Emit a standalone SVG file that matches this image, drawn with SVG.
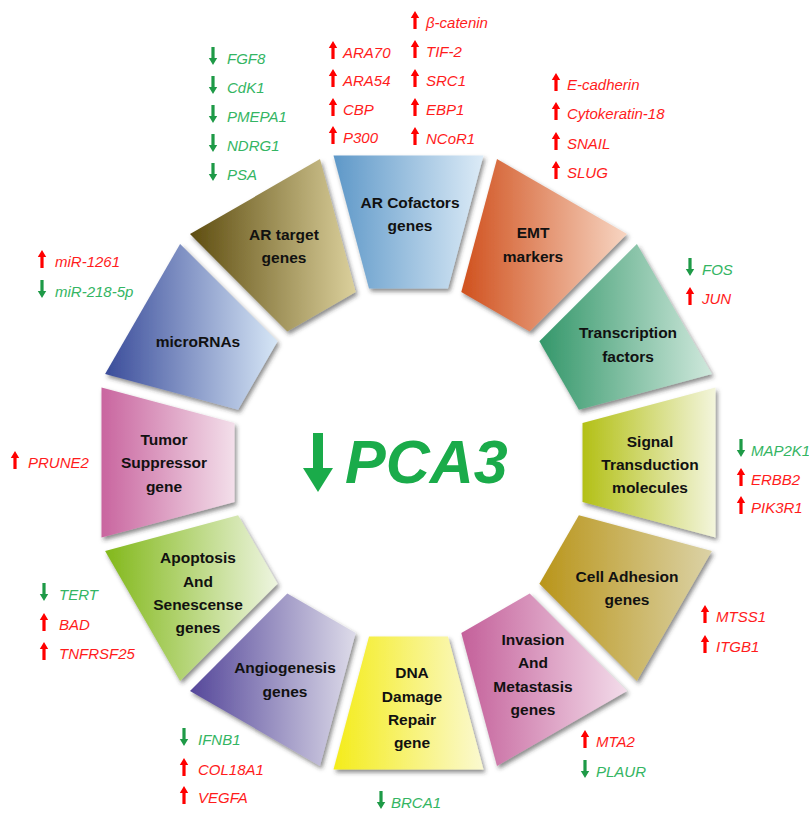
<svg xmlns="http://www.w3.org/2000/svg" xmlns:xlink="http://www.w3.org/1999/xlink" width="809" height="813" viewBox="0 0 809 813">
<defs>
<style>
.seg{filter:url(#sh);}
.lbl{font-family:"Liberation Sans",Arial,sans-serif;font-weight:bold;font-size:15.5px;fill:#111;text-anchor:middle;}
.gene{font-family:"Liberation Sans",Arial,sans-serif;font-style:italic;font-size:15px;}
.r{fill:#ff1c1c;}
.g{fill:#34b563;}
.ar{fill:#ff0000;}
.ag{fill:#1e9a47;}
</style>
<filter id="sh" x="-20%" y="-20%" width="150%" height="150%">
<feDropShadow dx="2" dy="3" stdDeviation="2" flood-color="#333" flood-opacity="0.55"/>
</filter>
<path id="up" d="M-1.6,1 L1.6,1 L1.6,-10 L4.2,-10 L0,-17 L-4.2,-10 L-1.6,-10 Z"/>
<path id="dn" d="M-1.6,-17 L1.6,-17 L1.6,-6 L4.2,-6 L0,1 L-4.2,-6 L-1.6,-6 Z"/>
<linearGradient id="g0"><stop offset="0" stop-color="#5e98c8"/><stop offset="1" stop-color="#dcebf7"/></linearGradient>
<linearGradient id="g1"><stop offset="0" stop-color="#d0511e"/><stop offset="1" stop-color="#f7d5c2"/></linearGradient>
<linearGradient id="g2"><stop offset="0" stop-color="#34976a"/><stop offset="1" stop-color="#cfe8dc"/></linearGradient>
<linearGradient id="g3"><stop offset="0" stop-color="#b3c016"/><stop offset="1" stop-color="#f3f5dc"/></linearGradient>
<linearGradient id="g4"><stop offset="0" stop-color="#b9951a"/><stop offset="1" stop-color="#dbd2a6"/></linearGradient>
<linearGradient id="g5"><stop offset="0" stop-color="#c4609a"/><stop offset="1" stop-color="#f3dcea"/></linearGradient>
<linearGradient id="g6"><stop offset="0" stop-color="#f4ec1a"/><stop offset="1" stop-color="#fbf9d0"/></linearGradient>
<linearGradient id="g7"><stop offset="0" stop-color="#55479a"/><stop offset="1" stop-color="#dddbe9"/></linearGradient>
<linearGradient id="g8"><stop offset="0" stop-color="#82b81a"/><stop offset="1" stop-color="#eef5e0"/></linearGradient>
<linearGradient id="g9"><stop offset="0" stop-color="#c9659f"/><stop offset="1" stop-color="#f3dfea"/></linearGradient>
<linearGradient id="g10"><stop offset="0" stop-color="#3a4c9a"/><stop offset="1" stop-color="#d6e6f6"/></linearGradient>
<linearGradient id="g11"><stop offset="0" stop-color="#5e4d10"/><stop offset="1" stop-color="#dbd09c"/></linearGradient>
</defs>
<rect width="809" height="813" fill="#fff"/>

<g id="ar-cofactors">
<polygon class="seg" fill="url(#g0)" points="369,288.5 448,288.5 483.5,155.5 333.5,155.5"/>
<text class="lbl" x="410" y="208">AR Cofactors</text>
<text class="lbl" x="410" y="231">genes</text>
<g class="gene">
<use href="#up" class="ar" x="333" y="58"/><text class="r" x="343" y="58">ARA70</text>
<use href="#up" class="ar" x="333" y="86"/><text class="r" x="343" y="86">ARA54</text>
<use href="#up" class="ar" x="333" y="115"/><text class="r" x="343" y="115">CBP</text>
<use href="#up" class="ar" x="333" y="143"/><text class="r" x="343" y="143">P300</text>
<use href="#up" class="ar" x="415" y="28"/><text class="r" x="426" y="28">β-catenin</text>
<use href="#up" class="ar" x="415" y="57"/><text class="r" x="426" y="57">TIF-2</text>
<use href="#up" class="ar" x="415" y="86"/><text class="r" x="426" y="86">SRC1</text>
<use href="#up" class="ar" x="415" y="115"/><text class="r" x="426" y="115">EBP1</text>
<use href="#up" class="ar" x="415" y="144"/><text class="r" x="426" y="144">NCoR1</text>
</g>
</g>

<g id="emt-markers">
<polygon class="seg" fill="url(#g1)" points="461.3,292.1 529.7,331.6 627,234.1 497,159.1"/>
<text class="lbl" x="533" y="238">EMT</text>
<text class="lbl" x="533" y="262">markers</text>
<g class="gene">
<use href="#up" class="ar" x="556" y="90"/><text class="r" x="567" y="90">E-cadherin</text>
<use href="#up" class="ar" x="556" y="119"/><text class="r" x="567" y="119">Cytokeratin-18</text>
<use href="#up" class="ar" x="556" y="149"/><text class="r" x="567" y="149">SNAIL</text>
<use href="#up" class="ar" x="556" y="178"/><text class="r" x="567" y="178">SLUG</text>
</g>
</g>

<g id="transcription-factors">
<polygon class="seg" fill="url(#g2)" points="539.4,341.3 578.9,409.7 711.9,374 636.9,244"/>
<text class="lbl" x="628" y="338">Transcription</text>
<text class="lbl" x="628" y="362">factors</text>
<g class="gene">
<use href="#dn" class="ag" x="690" y="275"/><text class="g" x="702" y="275">FOS</text>
<use href="#up" class="ar" x="690" y="304"/><text class="r" x="702" y="304">JUN</text>
</g>
</g>

<g id="signal-transduction">
<polygon class="seg" fill="url(#g3)" points="582.5,423 582.5,502 715.5,537.5 715.5,387.5"/>
<text class="lbl" x="650" y="447">Signal</text>
<text class="lbl" x="650" y="470">Transduction</text>
<text class="lbl" x="650" y="493">molecules</text>
<g class="gene">
<use href="#dn" class="ag" x="741" y="456"/><text class="g" x="751" y="456">MAP2K1</text>
<use href="#up" class="ar" x="741" y="485"/><text class="r" x="751" y="485">ERBB2</text>
<use href="#up" class="ar" x="741" y="513"/><text class="r" x="751" y="513">PIK3R1</text>
</g>
</g>

<g id="cell-adhesion">
<polygon class="seg" fill="url(#g4)" points="578.9,515.3 539.4,583.7 636.9,681 711.9,551"/>
<text class="lbl" x="627" y="582">Cell Adhesion</text>
<text class="lbl" x="627" y="605">genes</text>
<g class="gene">
<use href="#up" class="ar" x="705" y="622"/><text class="r" x="716" y="622">MTSS1</text>
<use href="#up" class="ar" x="705" y="652"/><text class="r" x="716" y="652">ITGB1</text>
</g>
</g>

<g id="invasion-metastasis">
<polygon class="seg" fill="url(#g5)" points="529.7,593.4 461.3,632.9 497,765.9 627,690.9"/>
<text class="lbl" x="533" y="645">Invasion</text>
<text class="lbl" x="533" y="668">And</text>
<text class="lbl" x="533" y="692">Metastasis</text>
<text class="lbl" x="533" y="715">genes</text>
<g class="gene">
<use href="#up" class="ar" x="585" y="747"/><text class="r" x="596" y="747">MTA2</text>
<use href="#dn" class="ag" x="585" y="777"/><text class="g" x="596" y="777">PLAUR</text>
</g>
</g>

<g id="dna-damage-repair">
<polygon class="seg" fill="url(#g6)" points="448,636.5 369,636.5 333.5,769.5 483.5,769.5"/>
<text class="lbl" x="412" y="678">DNA</text>
<text class="lbl" x="412" y="702">Damage</text>
<text class="lbl" x="412" y="725">Repair</text>
<text class="lbl" x="412" y="748">gene</text>
<g class="gene">
<use href="#dn" class="ag" x="381" y="808"/><text class="g" x="391" y="808">BRCA1</text>
</g>
</g>

<g id="angiogenesis">
<polygon class="seg" fill="url(#g7)" points="355.7,632.9 287.3,593.4 190,690.9 320,765.9"/>
<text class="lbl" x="285" y="673">Angiogenesis</text>
<text class="lbl" x="285" y="697">genes</text>
<g class="gene">
<use href="#dn" class="ag" x="184" y="745"/><text class="g" x="198" y="745">IFNB1</text>
<use href="#up" class="ar" x="184" y="775"/><text class="r" x="198" y="775">COL18A1</text>
<use href="#up" class="ar" x="184" y="803"/><text class="r" x="198" y="803">VEGFA</text>
</g>
</g>

<g id="apoptosis-senescense">
<polygon class="seg" fill="url(#g8)" points="277.6,583.7 238.1,515.3 105.1,551 180.1,681"/>
<text class="lbl" x="198" y="563">Apoptosis</text>
<text class="lbl" x="198" y="587">And</text>
<text class="lbl" x="198" y="610">Senescense</text>
<text class="lbl" x="198" y="633">genes</text>
<g class="gene">
<use href="#dn" class="ag" x="44" y="600"/><text class="g" x="59" y="600">TERT</text>
<use href="#up" class="ar" x="44" y="630"/><text class="r" x="59" y="630">BAD</text>
<use href="#up" class="ar" x="44" y="659"/><text class="r" x="59" y="659">TNFRSF25</text>
</g>
</g>

<g id="tumor-suppressor">
<polygon class="seg" fill="url(#g9)" points="234.5,502 234.5,423 101.5,387.5 101.5,537.5"/>
<text class="lbl" x="164" y="445">Tumor</text>
<text class="lbl" x="164" y="468">Suppressor</text>
<text class="lbl" x="164" y="492">gene</text>
<g class="gene">
<use href="#up" class="ar" x="15" y="468"/><text class="r" x="28" y="468">PRUNE2</text>
</g>
</g>

<g id="micrornas">
<polygon class="seg" fill="url(#g10)" points="238.1,409.7 277.6,341.3 180.1,244 105.1,374"/>
<text class="lbl" x="198" y="347">microRNAs</text>
<g class="gene">
<use href="#up" class="ar" x="42" y="267"/><text class="r" x="55" y="267">miR-1261</text>
<use href="#dn" class="ag" x="42" y="297"/><text class="g" x="55" y="297">miR-218-5p</text>
</g>
</g>

<g id="ar-target">
<polygon class="seg" fill="url(#g11)" points="287.3,331.6 355.7,292.1 320,159.1 190,234.1"/>
<text class="lbl" x="284" y="240">AR target</text>
<text class="lbl" x="284" y="263">genes</text>
<g class="gene">
<use href="#dn" class="ag" x="213" y="64"/><text class="g" x="227" y="64">FGF8</text>
<use href="#dn" class="ag" x="213" y="93"/><text class="g" x="227" y="93">CdK1</text>
<use href="#dn" class="ag" x="213" y="122"/><text class="g" x="227" y="122">PMEPA1</text>
<use href="#dn" class="ag" x="213" y="151"/><text class="g" x="227" y="151">NDRG1</text>
<use href="#dn" class="ag" x="213" y="180"/><text class="g" x="227" y="180">PSA</text>
</g>
</g>

<g id="pca3">
<path fill="#1aab4a" d="M313,433 L323,433 L323,468 L333,468 L318,492 L303,468 L313,468 Z"/>
<text x="345" y="483" font-family="'Liberation Sans',Arial,sans-serif" font-weight="bold" font-style="italic" font-size="61" fill="#1aab4a">PCA3</text>
</g>
</svg>
